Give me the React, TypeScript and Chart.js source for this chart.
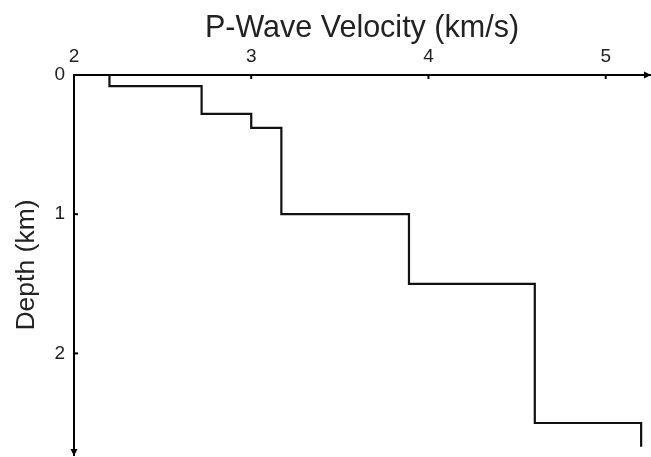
import React, { useEffect, useRef } from "react";
import { Chart, registerables } from "chart.js";

Chart.register(...registerables);

// Layer velocities (km/s) and their top/bottom depths (km)
const velocities = [2.2, 2.72, 3.0, 3.17, 3.89, 4.6, 5.2];
const layerTops = [0, 0.08, 0.28, 0.38, 1.0, 1.5, 2.5];
const layerBottoms = [0.08, 0.28, 0.38, 1.0, 1.5, 2.5, 2.67];

const xTickValues = [2, 3, 4, 5];
const yTickValues = [0, 1, 2];
const xMin = 2;
const xMax = 5.25;
const yMin = 0;
const yMax = 2.73;

const xTitle = "P-Wave Velocity (km/s)";
const yTitle = "Depth (km)";

const FONT = "Arial, 'Liberation Sans', sans-serif";

const axisDecorations = {
  id: "axisDecorations",
  afterDraw(chart: any) {
    const { ctx, chartArea } = chart;
    const xs = chart.scales.x;
    const ys = chart.scales.y;
    ctx.save();
    ctx.strokeStyle = "#000";
    ctx.fillStyle = "#000";
    ctx.lineWidth = 2;
    // tick marks (inward)
    xTickValues.forEach((v) => {
      if (v === xMin) return;
      const px = xs.getPixelForValue(v);
      ctx.beginPath();
      ctx.moveTo(px, chartArea.top);
      ctx.lineTo(px, chartArea.top + 4);
      ctx.stroke();
    });
    yTickValues.forEach((v) => {
      if (v === yMin) return;
      const py = ys.getPixelForValue(v);
      ctx.beginPath();
      ctx.moveTo(chartArea.left, py);
      ctx.lineTo(chartArea.left + 4, py);
      ctx.stroke();
    });
    // arrow on x axis (right end)
    const ax = xs.getPixelForValue(xMax);
    const ay = chartArea.top;
    ctx.beginPath();
    ctx.moveTo(ax + 1, ay);
    ctx.lineTo(ax - 6, ay - 3.5);
    ctx.lineTo(ax - 6, ay + 3.5);
    ctx.closePath();
    ctx.fill();
    // arrow on y axis (bottom end)
    const bx = chartArea.left;
    const by = ys.getPixelForValue(yMax);
    ctx.beginPath();
    ctx.moveTo(bx, by + 1);
    ctx.lineTo(bx - 3.5, by - 6);
    ctx.lineTo(bx + 3.5, by - 6);
    ctx.closePath();
    ctx.fill();
    ctx.restore();
  },
};

export default function App() {
  const canvasRef = useRef<HTMLCanvasElement | null>(null);

  useEffect(() => {
    const canvas = canvasRef.current;
    if (!canvas) return;
    const points: { x: number; y: number }[] = [];
    velocities.forEach((v, i) => {
      points.push({ x: v, y: layerTops[i] });
      points.push({ x: v, y: layerBottoms[i] });
    });

    const chart = new Chart(canvas, {
      type: "scatter",
      data: {
        datasets: [
          {
            data: points,
            showLine: true,
            borderColor: "#111",
            borderWidth: 2.2,
            pointRadius: 0,
            fill: false,
            tension: 0,
            clip: false as any,
          },
        ],
      },
      plugins: [axisDecorations],
      options: {
        animation: false,
        responsive: false,
        maintainAspectRatio: false,
        layout: { padding: { left: 0, top: 0, right: 1, bottom: 2 } },
        plugins: {
          legend: { display: false },
          tooltip: { enabled: false },
        },
        scales: {
          x: {
            type: "linear",
            position: "top",
            min: xMin,
            max: xMax,
            afterBuildTicks: (s: any) => {
              s.ticks = xTickValues.map((v) => ({ value: v }));
            },
            afterFit: (s: any) => {
              s.height = 75;
              s.paddingLeft = 0;
              s.paddingRight = 0;
            },
            grid: { display: false, drawTicks: false },
            border: { display: true, color: "#000", width: 2 },
            ticks: {
              padding: 7,
              color: "#222",
              font: { family: FONT, size: 19 },
              maxRotation: 0,
              autoSkip: false,
            },
            title: {
              display: true,
              text: xTitle,
              color: "#222",
              font: { family: FONT, size: 30.5 },
              padding: { top: 10, bottom: 0 },
            },
          },
          y: {
            type: "linear",
            position: "left",
            reverse: true,
            min: yMin,
            max: yMax,
            afterBuildTicks: (s: any) => {
              s.ticks = yTickValues.map((v) => ({ value: v }));
            },
            afterFit: (s: any) => {
              s.width = 74;
              s.paddingTop = 0;
              s.paddingBottom = 0;
            },
            grid: { display: false, drawTicks: false },
            border: { display: true, color: "#000", width: 2 },
            ticks: {
              padding: 9,
              color: "#222",
              font: { family: FONT, size: 19 },
              autoSkip: false,
            },
            title: {
              display: true,
              text: yTitle,
              color: "#222",
              font: { family: FONT, size: 26.5 },
              padding: { top: 11, bottom: 0 },
            },
          },
        },
      } as any,
    });
    return () => chart.destroy();
  }, []);

  return (
    <div style={{ position: "fixed", left: 0, top: 0, width: 651, height: 457, background: "#fff" }}>
      <canvas ref={canvasRef} width={651} height={457} style={{ display: "block" }} />
    </div>
  );
}
